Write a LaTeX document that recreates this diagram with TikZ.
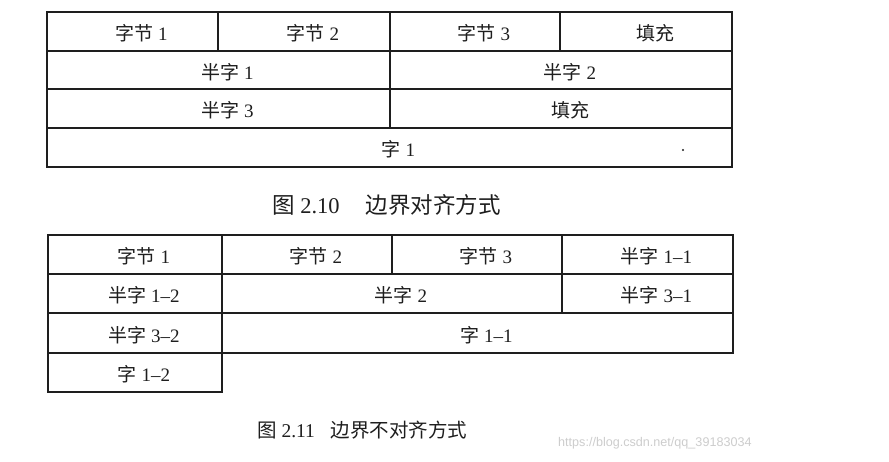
\documentclass[tikz,border=0pt]{standalone}
\usepackage{fontspec}
\setmainfont{Liberation Serif}
\newfontfamily\cjk{Noto Sans CJK SC}
\newfontfamily\wmfont{Liberation Sans}
\definecolor{ink}{RGB}{30,30,30}
\definecolor{wmgray}{RGB}{205,205,205}
\tikzset{
  cellline/.style={draw=ink, line width=1.1pt},
  celltext/.style={inner sep=0pt, text=ink, font=\fontsize{19}{19}\selectfont},
  captext/.style={inner sep=0pt, anchor=west, text=ink},
}
\newcommand\mkcell[6]{%
  \draw[cellline] (#2,#3) rectangle (#4,#5);
  \node[celltext] (#1) at ({(#2+#4)/2+9},{(#3+#5)/2+2}) {#6};
}
\begin{document}
\begin{tikzpicture}[x=1pt,y=-1pt]
\useasboundingbox[fill=white] (0,0) rectangle (889,462);
% ---- Figure 2.10 ----
\mkcell{ta1}{47}{12}{218}{51}{{\cjk 字节} 1}
\mkcell{ta2}{218}{12}{390}{51}{{\cjk 字节} 2}
\mkcell{ta3}{390}{12}{560}{51}{{\cjk 字节} 3}
\mkcell{ta4}{560}{12}{732}{51}{{\cjk 填充}}
\mkcell{tb1}{47}{51}{390}{89}{{\cjk 半字} 1}
\mkcell{tb2}{390}{51}{732}{89}{{\cjk 半字} 2}
\mkcell{tc1}{47}{89}{390}{128}{{\cjk 半字} 3}
\mkcell{tc2}{390}{89}{732}{128}{{\cjk 填充}}
\mkcell{td1}{47}{128}{732}{167}{{\cjk 字} 1}
\fill[ink] (683,150) circle (1.1);
\node[captext, font=\fontsize{22.5}{22.5}\selectfont] (cap1) at (272,205)
  {{\cjk 图} 2.10\hspace{26pt}{\cjk 边界对齐方式}};
% ---- Figure 2.11 ----
\mkcell{ba1}{48}{235}{222}{274}{{\cjk 字节} 1}
\mkcell{ba2}{222}{235}{392}{274}{{\cjk 字节} 2}
\mkcell{ba3}{392}{235}{562}{274}{{\cjk 字节} 3}
\mkcell{ba4}{562}{235}{733}{274}{{\cjk 半字} 1–1}
\mkcell{bb1}{48}{274}{222}{313}{{\cjk 半字} 1–2}
\mkcell{bb2}{222}{274}{562}{313}{{\cjk 半字} 2}
\mkcell{bb3}{562}{274}{733}{313}{{\cjk 半字} 3–1}
\mkcell{bc1}{48}{313}{222}{353}{{\cjk 半字} 3–2}
\mkcell{bc2}{222}{313}{733}{353}{{\cjk 字} 1–1}
\mkcell{bd1}{48}{353}{222}{392}{{\cjk 字} 1–2}
\node[captext, font=\fontsize{19.5}{19.5}\selectfont] (cap2) at (257,430)
  {{\cjk 图} 2.11\hspace{16pt}{\cjk 边界不对齐方式}};
\node[inner sep=0pt, anchor=west, text=wmgray, font=\wmfont\fontsize{12.6}{12.6}\selectfont] (wm) at (558,443)
  {https://blog.csdn.net/qq\_39183034};
\end{tikzpicture}
\end{document}
